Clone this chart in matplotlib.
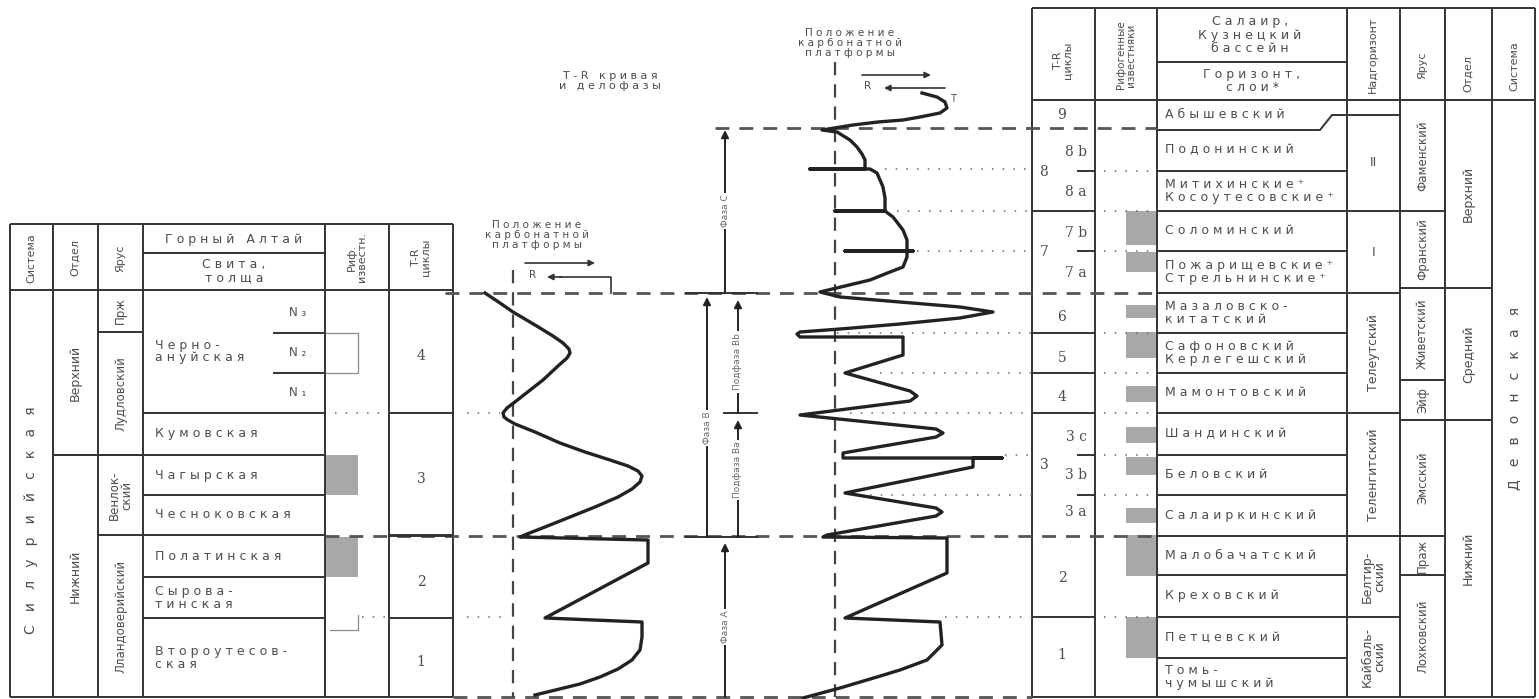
import matplotlib.pyplot as plt
from matplotlib.patches import Rectangle

# ---------- данные ----------
# левая таблица: Горный Алтай, силур
left_cols = [10, 53, 98, 143, 325, 389, 453]
left_svita = ['Черно-\nануйская', 'Кумовская', 'Чагырская', 'Чесноковская',
              'Полатинская', 'Сырова-\nтинская', 'Второутесов-\nская']
left_svita_bounds = [290, 413, 455, 495, 535, 577, 618, 697]
left_n = ['N₃', 'N₂', 'N₁']
left_n_bounds = [293, 333, 373, 413]
left_yarus = ['Прж', 'Лудловский', 'Венлок-\nский', 'Лландоверийский']
left_yarus_bounds = [290, 332, 455, 535, 697]
left_otdel = ['Верхний', 'Нижний']
left_otdel_bounds = [290, 455, 697]
left_tr = ['4', '3', '2', '1']
left_tr_bounds = [290, 413, 535, 618, 697]
left_reef = [(455, 495), (537, 577)]

# правая таблица: Салаир, Кузнецкий бассейн, девон
right_cols = [1032, 1095, 1157, 1347, 1400, 1445, 1492, 1535]
right_horizons = ['Абышевский', 'Подонинский', 'Митихинские⁺\nКосоутесовские⁺',
                  'Соломинский', 'Пожарищевские⁺\nСтрельнинские⁺',
                  'Мазаловско-\nкитатский', 'Сафоновский\nКерлегешский',
                  'Мамонтовский', 'Шандинский', 'Беловский', 'Салаиркинский',
                  'Малобачатский', 'Креховский', 'Петцевский', 'Томь-\nчумышский']
right_horizon_bounds = [100, 129, 171, 211, 251, 293, 333, 373, 413, 455, 495,
                        536, 575, 617, 658, 697]
right_tr_main = ['9', '8', '7', '6', '5', '4', '3', '2', '1']
right_tr_main_y = [115, 172, 252, 317, 358, 397, 465, 578, 655]
right_tr_sub = ['8 b', '8 a', '7 b', '7 a', '3 c', '3 b', '3 a']
right_tr_sub_y = [152, 192, 233, 273, 437, 475, 512]
right_tr_full = [211, 333, 373, 413, 617]
right_tr_short = [171, 251, 455, 495]
right_reef = [(211, 245), (252, 272), (305, 318), (332, 358), (386, 402),
              (427, 443), (457, 475), (508, 523), (535, 576), (617, 658)]
right_reef_dots = [171, 211, 251, 333, 373, 413, 455, 495, 617]
nadgor = ['II', 'I', 'Телеутский', 'Теленгитский', 'Белтир-\nский', 'Кайбаль-\nский']
nadgor_bounds = [115, 211, 293, 413, 536, 617, 697]
yarus = ['Фаменский', 'Франский', 'Живетский', 'Эйф', 'Эмсский', 'Праж', 'Лохковский']
yarus_bounds = [100, 211, 288, 380, 420, 536, 575, 697]
otdel = ['Верхний', 'Средний', 'Нижний']
otdel_bounds = [100, 288, 420, 697]

# T-R кривая (Горный Алтай)
left_curve_x = [485, 500, 513, 535, 553, 563, 569, 570, 567, 558, 543, 520, 507, 503, 504, 508,
                515, 535, 560, 585, 610, 628, 638, 642, 640, 632, 618, 595, 570, 545, 527, 520,
                648, 648, 545, 642, 642, 640, 632, 618, 600, 580, 535]
left_curve_y = [293, 303, 312, 325, 336, 343, 349, 353, 358, 366, 380, 398, 408, 413, 417, 420,
                424, 432, 443, 452, 460, 466, 471, 476, 482, 489, 497, 507, 517, 527, 534, 537,
                540, 563, 618, 622, 637, 650, 660, 669, 677, 684, 695]

# положение карбонатной платформы (Салаир)
right_curve_x = [922, 937, 945, 947, 940, 920, 903, 878, 853, 822,
                 837, 850, 857, 862, 865, 865, 810, 870, 877, 883, 885, 885, 835,
                 885, 893, 903, 907, 907, 845, 913, 907, 907, 903, 890, 870, 845, 820,
                 840, 900, 960, 993, 960, 900, 840, 800, 797, 800, 903, 903, 845,
                 910, 917, 910, 800, 936, 943, 936, 843, 843, 1002, 973, 973, 845,
                 936, 942, 936, 827, 823,
                 947, 947, 845, 940, 942, 927, 900, 877, 840, 803]
right_curve_y = [93, 97, 102, 108, 113, 117, 120, 122, 125, 130,
                 132, 140, 147, 154, 160, 169, 169, 169, 173, 187, 198, 211, 211,
                 211, 217, 230, 240, 251, 251, 251, 251, 257, 267, 272, 280, 286, 292,
                 297, 302, 307, 312, 318, 324, 329, 332, 334, 337, 337, 355, 373,
                 391, 396, 401, 415, 429, 433, 437, 453, 458, 458, 458, 467, 493,
                 508, 512, 516, 535, 537,
                 538, 573, 618, 622, 645, 660, 670, 677, 688, 698]

# фазы
phases = ['Фаза С', 'Фаза В', 'Подфаза Вb', 'Подфаза Ва', 'Фаза А']
phase_x = [725, 707, 738, 738, 725]
phase_from = [293, 537, 413, 537, 697]
phase_to = [130, 297, 300, 420, 543]
phase_text_y = [211, 428, 362, 470, 627]

# уровни границ
dashed_levels = [(128, 715, 1157), (293, 445, 1157), (536, 325, 1157), (697, 453, 1032)]
dotted_levels = [(169, 885, 1032), (211, 897, 1032), (251, 917, 1032),
                 (333, 837, 1032), (373, 880, 1032), (413, 850, 1032), (413, 467, 500),
                 (413, 335, 389), (455, 1005, 1032), (495, 870, 1032),
                 (617, 945, 1032), (617, 467, 503), (617, 362, 389)]

LINE = '#333333'
TXT = '#4d4d4d'
GRAY = '#a8a8a8'


def spaced(s, sep=' '):
    return '\n'.join(sep.join(part) for part in s.split('\n'))


def hline(ax, y, x0, x1, **kw):
    kw.setdefault('color', LINE)
    kw.setdefault('lw', 1.4)
    ax.plot([x0, x1], [y, y], solid_capstyle='butt', **kw)


def vline(ax, x, y0, y1, **kw):
    kw.setdefault('color', LINE)
    kw.setdefault('lw', 1.4)
    ax.plot([x, x], [y0, y1], solid_capstyle='butt', **kw)


def label(ax, x, y, s, size=9, rot=0, ha='center', **kw):
    ax.text(x, y, s, fontsize=size, rotation=rot, ha=ha, va='center',
            color=TXT, linespacing=1.0, rotation_mode='anchor', **kw)


def column(ax, x0, x1, bounds, names, size=9):
    for i, name in enumerate(names):
        # римские номера надгоризонтов стоят прямо
        rot = 0 if set(name) <= {'I'} else 90
        label(ax, (x0 + x1) / 2, (bounds[i] + bounds[i + 1]) / 2, name, size=size, rot=rot)
    for b in bounds[1:-1]:
        hline(ax, b, x0, x1)


W, H = 1539, 699
fig = plt.figure(figsize=(W / 100, H / 100), dpi=100)
ax = fig.add_axes([0, 0, 1, 1])
ax.set_xlim(0, W)
ax.set_ylim(H, 0)
ax.axis('off')

# ---------- левая таблица ----------
lt, lh, lb = 224, 290, 697
for x in left_cols:
    vline(ax, x, lt, lb)
hline(ax, lt, left_cols[0], left_cols[-1])
hline(ax, lh, left_cols[0], left_cols[-1])
hline(ax, lb, left_cols[0], left_cols[-1])
hline(ax, 253, 143, 325)

label(ax, 31, 258, 'Система', size=8, rot=90)
label(ax, 75, 258, 'Отдел', size=8, rot=90)
label(ax, 120, 258, 'Ярус', size=8, rot=90)
label(ax, 234, 239, spaced('Горный Алтай'), size=9)
label(ax, 234, 271, spaced('Свита,\nтолща'), size=9)
label(ax, 357, 257, 'Риф.\nизвестн.', size=8, rot=90)
label(ax, 421, 257, 'T-R\nциклы', size=8, rot=90)

label(ax, 31, 520, spaced('Силурийская', '   '), size=10, rot=90)
column(ax, 53, 98, left_otdel_bounds, left_otdel, size=9)
column(ax, 98, 143, left_yarus_bounds, left_yarus, size=8.5)
for i, name in enumerate(left_svita):
    label(ax, 155, (left_svita_bounds[i] + left_svita_bounds[i + 1]) / 2,
          spaced(name), size=9, ha='left')
    if 0 < i:
        hline(ax, left_svita_bounds[i], 53 if i == 2 else 143, 325)
for i, name in enumerate(left_n):
    label(ax, 298, (left_n_bounds[i] + left_n_bounds[i + 1]) / 2, spaced(name), size=8.5)
for b in left_n_bounds[1:-1]:
    hline(ax, b, 273, 325)
for i, name in enumerate(left_tr):
    label(ax, 421, (left_tr_bounds[i] + left_tr_bounds[i + 1]) / 2 + 5, name,
          size=10, family='DejaVu Serif')
for b in left_tr_bounds[1:-1]:
    hline(ax, b, 389, 453)
for y0, y1 in left_reef:
    ax.add_patch(Rectangle((326, y0), 32, y1 - y0, color=GRAY, lw=0))
# скобки у рифов
ax.plot([326, 358, 358, 326], [333, 333, 373, 373], color='#8c8c8c', lw=0.9)
ax.plot([330, 358, 358], [630, 630, 615], color='#8c8c8c', lw=0.9)

# ---------- правая таблица ----------
rt, rh, rb = 8, 100, 697
for x in right_cols:
    vline(ax, x, rt, rb)
hline(ax, rt, right_cols[0], right_cols[-1])
hline(ax, rh, right_cols[0], right_cols[-1])
hline(ax, rb, right_cols[0], right_cols[-1])
hline(ax, 62, 1157, 1347)

label(ax, 1063, 60, 'T-R\nциклы', size=8, rot=90)
label(ax, 1126, 55, 'Рифогенные\nизвестняки', size=7.5, rot=90)
label(ax, 1250, 35, spaced('Салаир,\nКузнецкий\nбассейн'), size=9)
label(ax, 1252, 81, spaced('Горизонт,\nслои*'), size=9)
label(ax, 1373, 55, 'Надгоризонт', size=8, rot=90)
label(ax, 1422, 65, 'Ярус', size=8, rot=90)
label(ax, 1468, 73, 'Отдел', size=8, rot=90)
label(ax, 1514, 66, 'Система', size=8, rot=90)

for i, name in enumerate(right_horizons):
    label(ax, 1165, (right_horizon_bounds[i] + right_horizon_bounds[i + 1]) / 2,
          spaced(name), size=9, ha='left')
for b in right_horizon_bounds[2:-1]:
    hline(ax, b, 1157, 1347)
# граница абышевского горизонта с уступом
ax.plot([1157, 1320, 1332, 1400], [130, 130, 115, 115], color=LINE, lw=1.4)

for name, y in zip(right_tr_main, right_tr_main_y):
    label(ax, 1062 if name not in ('8', '7', '3') else 1044, y, name,
          size=10, family='DejaVu Serif')
for name, y in zip(right_tr_sub, right_tr_sub_y):
    label(ax, 1076, y, name, size=10, family='DejaVu Serif')
for y in right_tr_full:
    hline(ax, y, 1032, 1095)
for y in right_tr_short:
    hline(ax, y, 1077, 1095)
for y0, y1 in right_reef:
    ax.add_patch(Rectangle((1126, y0), 31, y1 - y0, color=GRAY, lw=0))
for y in right_reef_dots:
    hline(ax, y, 1104, 1157, lw=1.1, ls=(0, (1, 6)), color='#666666')

column(ax, 1347, 1400, nadgor_bounds, nadgor, size=9)
column(ax, 1400, 1445, yarus_bounds, yarus, size=8.5)
column(ax, 1445, 1492, otdel_bounds, otdel, size=9)
label(ax, 1514, 398, spaced('Девонская', '   '), size=10, rot=90)

# ---------- средняя часть ----------
for y, x0, x1 in dashed_levels:
    hline(ax, y, x0, x1, lw=2, ls=(0, (5, 3.6)), color='#555555')
hline(ax, 536, 389, 453)
for y, x0, x1 in dotted_levels:
    hline(ax, y, x0, x1, lw=1.1, ls=(0, (1, 6)), color='#666666')

vline(ax, 513, 270, 697, lw=1.6, ls=(0, (6, 4)), color='#444444')
vline(ax, 835, 62, 697, lw=1.6, ls=(0, (6, 4)), color='#444444')

ax.plot(left_curve_x, left_curve_y, color='#222222', lw=2.4, solid_joinstyle='round')
ax.plot(right_curve_x, right_curve_y, color='#222222', lw=2.4, solid_joinstyle='round')

for name, x, y0, y1, ty in zip(phases, phase_x, phase_from, phase_to, phase_text_y):
    ax.annotate('', xy=(x, y1), xytext=(x, y0),
                arrowprops=dict(arrowstyle='-|>', lw=1.4, color='#222222',
                                mutation_scale=11, shrinkA=0, shrinkB=0))
    ax.text(x, ty, name, fontsize=6.5, rotation=90, ha='center', va='center',
            color='#6a6a6a', bbox=dict(facecolor='white', edgecolor='none', pad=1.5))
hline(ax, 293, 685, 758)
hline(ax, 413, 723, 758)
hline(ax, 537, 685, 758)

label(ax, 610, 81, spaced('T-R кривая\nи делофазы'), size=8)
label(ax, 850, 43, spaced('Положение\nкарбонатной\nплатформы'), size=7.5)
label(ax, 537, 235, spaced('Положение\nкарбонатной\nплатформы'), size=7.5)

# стрелки T / R
arr = dict(arrowstyle='-|>', lw=1.2, color='#333333', mutation_scale=9, shrinkA=0, shrinkB=0)
ax.annotate('', xy=(931, 75), xytext=(862, 75), arrowprops=arr)
ax.annotate('', xy=(884, 88), xytext=(945, 88), arrowprops=arr)
label(ax, 868, 86, 'R', size=7.5)
label(ax, 953, 99, 'T', size=7)
ax.annotate('', xy=(595, 263), xytext=(525, 263), arrowprops=arr)
ax.plot([611, 611, 560], [293, 277, 277], color='#333333', lw=1.2)
ax.annotate('', xy=(547, 277), xytext=(562, 277), arrowprops=arr)
label(ax, 533, 275, 'R', size=7.5)

fig.savefig('out.png', dpi=100)
